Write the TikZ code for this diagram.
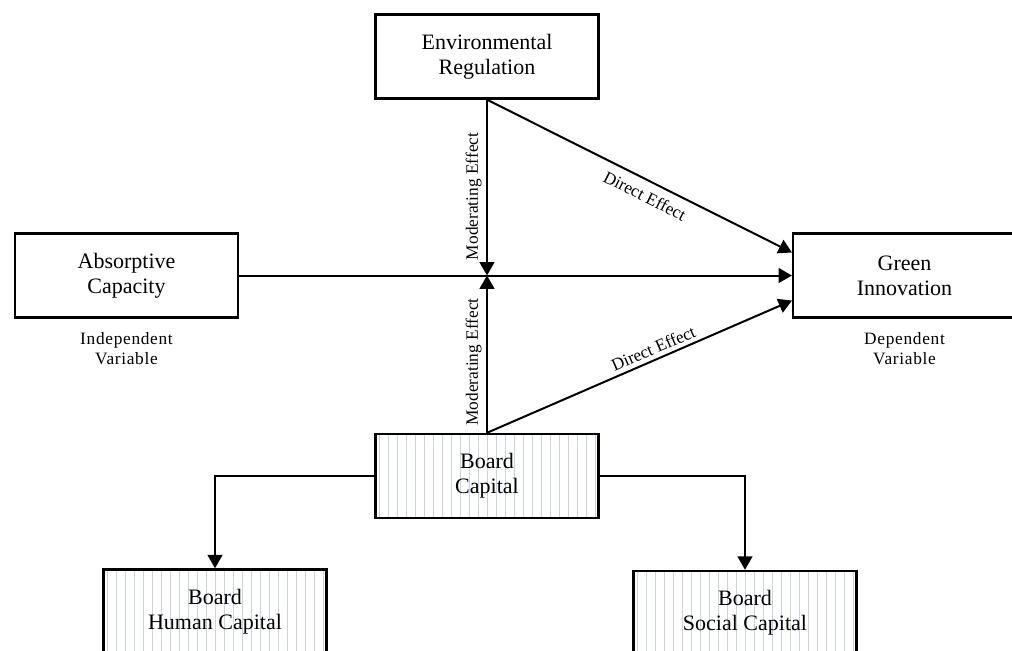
\documentclass[tikz,border=0pt]{standalone}
\usepackage{fontspec}
\setmainfont{Liberation Serif}
\usetikzlibrary{arrows.meta,positioning,calc}
\definecolor{stripegray}{RGB}{203,211,226}
\tikzset{varbox/.style={draw, line width=1.8pt, fill=white,
   minimum width=167pt, minimum height=63pt, align=center,
   font=\fontsize{16.5}{19}\selectfont},
 striped/.style={varbox, path picture={
   \foreach \k in {0,...,26}
     \draw[stripegray, line width=1pt]
       ([xshift=\k*6.75pt+3pt]path picture bounding box.south west) --
       ([xshift=\k*6.75pt+3pt]path picture bounding box.north west);}},
 link/.style={line width=1.5pt, -{Triangle[width=11pt,length=10pt]}},
 varlabel/.style={align=center, inner sep=1pt,
   font=\fontsize{13}{15}\selectfont\addfontfeature{LetterSpace=4}},
 efflabel/.style={font=\fontsize{13}{15}\selectfont},
 }

\begin{document}
\begin{tikzpicture}[x=0.75pt,y=-0.75pt]
    \useasboundingbox (0,0) rectangle (1012,650);
    \clip (0,0) rectangle (1012,650);
    \node[varbox] (envreg) at (487,56.5) {Environmental\\Regulation};
    \node[varbox] (absorb) at (126.5,275.5) {Absorptive\\Capacity};
    \node[varbox] (green) at (904.5,275.5) {Green\\Innovation};
    \node[striped] (bcap) at (487,476) {Board\\Capital};
    \node[striped] (bhcap) at (215,611.5) {Board\\Human Capital};
    \node[striped] (bscap) at (745,613) {Board\\Social Capital};
    \node[varlabel, below=9pt of absorb] (indep) {Independent\\Variable};
    \node[varlabel, below=9pt of green] (dep) {Dependent\\Variable};
    \coordinate (cross) at (envreg.south |- absorb.east);
    \draw[link] (absorb) -- (green);
    \draw[link] (envreg.south) -- node[efflabel, pos=0.55, rotate=90, above] {Moderating Effect} (cross);
    \draw[link] (bcap.north) -- node[efflabel, pos=0.45, rotate=90, above] {Moderating Effect} (cross);
    \draw[link] (envreg.south) -- node[efflabel, sloped, below, pos=0.54, inner sep=6pt] {Direct Effect} ($(green.west)+(0,-23)$);
    \draw[link] (bcap.north) -- node[efflabel, sloped, above, pos=0.56, inner sep=3pt] {Direct Effect} ($(green.west)+(0,25)$);
    \draw[link] (bcap.west) -| (bhcap.north);
    \draw[link] (bcap.east) -| (bscap.north);
\end{tikzpicture}
\end{document}
